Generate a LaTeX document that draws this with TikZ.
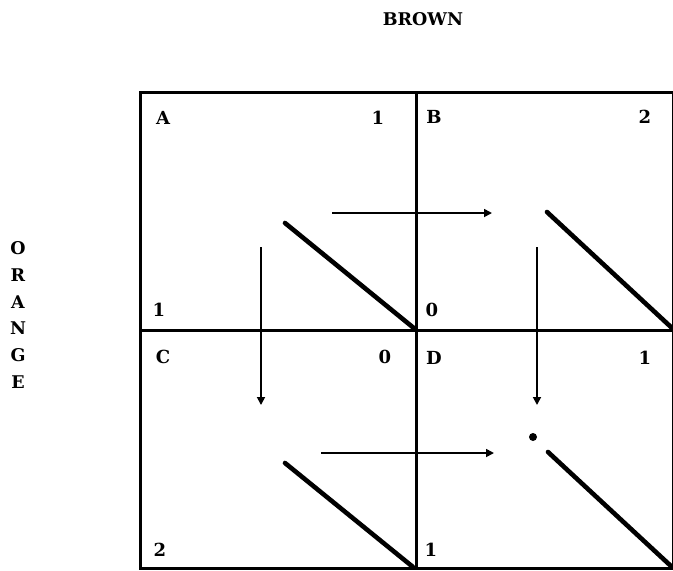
\documentclass[tikz,border=0pt]{standalone}
\usepackage{fontspec}
\setmainfont{DejaVu Serif}
\usepackage{tikz}
\usetikzlibrary{arrows.meta, positioning}
\tikzset{
    title/.style={font=\fontsize{17.5}{20}\selectfont\bfseries, inner sep=0pt},
    cell/.style={font=\fontsize{18}{20}\selectfont\bfseries, inner sep=0pt},
    grid/.style={line width=3pt},
    move/.style={-{Triangle[length=8pt, width=8pt]}, line width=1.7pt},
    best/.style={line width=4.6pt, line cap=round}
}

\begin{document}
\begin{tikzpicture}[x=1pt, y=-1pt]
    \useasboundingbox (0,0) rectangle (673,571);
    % titles
    \node [title] (brown) at (423,19) {BROWN};
    \node [title, align=center, font=\fontsize{17.5}{26.8}\selectfont\bfseries] (orange) at (18,315) {O\\R\\A\\N\\G\\E};

    % the four cells
    \draw [grid] (140,92) rectangle (673,568);
    \draw [grid] (416,92) -- (416,568);
    \draw [grid] (140,330) -- (673,330);

    \node [cell] (nameA) at (163,118) {A};
    \node [cell] (topA) at (378,118) {1};
    \node [cell] (botA) at (159,310) {1};
    \node [cell] (nameB) at (434,117) {B};
    \node [cell] (topB) at (645,117) {2};
    \node [cell] (botB) at (432,310) {0};
    \node [cell] (nameC) at (163,357) {C};
    \node [cell] (topC) at (385,357) {0};
    \node [cell] (botC) at (160,550) {2};
    \node [cell] (nameD) at (434,358) {D};
    \node [cell] (topD) at (645,358) {1};
    \node [cell] (botD) at (431,550) {1};

    % moves between cells
    \coordinate (ab1) at (332,213);
    \coordinate (ab2) at (492,213);
    \coordinate (cd1) at (321,453);
    \coordinate (cd2) at (494,453);
    \coordinate (ac1) at (261,247);
    \coordinate (ac2) at (261,405);
    \coordinate (bd1) at (537,247);
    \coordinate (bd2) at (537,405);
    \draw [move] (ab1) -- (ab2);
    \draw [move] (cd1) -- (cd2);
    \draw [move] (ac1) -- (ac2);
    \draw [move] (bd1) -- (bd2);

    % diagonals
    \coordinate (dA1) at (285,223);
    \coordinate (dA2) at (415,329);
    \coordinate (dB1) at (547,212);
    \coordinate (dB2) at (672,328);
    \coordinate (dC1) at (285,463);
    \coordinate (dC2) at (413,567);
    \coordinate (dD1) at (548,452);
    \coordinate (dD2) at (672,567);
    \draw [best] (dA1) -- (dA2);
    \draw [best] (dB1) -- (dB2);
    \draw [best] (dC1) -- (dC2);
    \draw [best] (dD1) -- (dD2);

    \fill (533,437) circle (4pt);
\end{tikzpicture}
\end{document}
